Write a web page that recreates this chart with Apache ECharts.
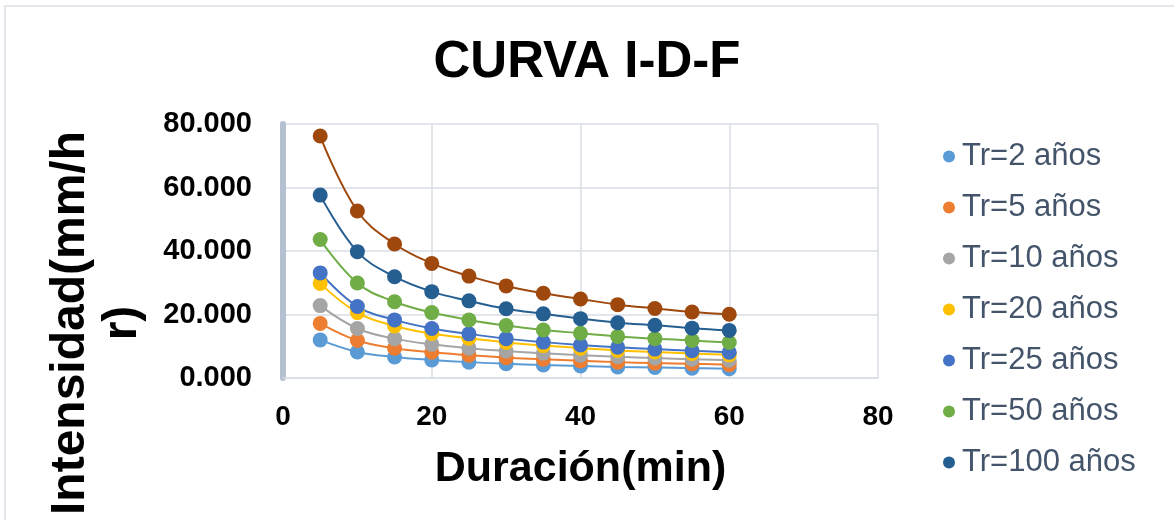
<!DOCTYPE html>
<html>
<head>
<meta charset="utf-8">
<title>Curva I-D-F</title>
<script src="https://cdn.jsdelivr.net/npm/echarts@6/dist/echarts.min.js"></script>
<style>
  html, body { margin: 0; padding: 0; background: #fff; }
  #idfChart { width: 1174px; height: 520px; }
</style>
</head>
<body>
<div id="idfChart"></div>
<script>
// duraciones (min)
const duracion = [5, 10, 15, 20, 25, 30, 35, 40, 45, 50, 55, 60]
const xTicks = [0, 20, 40, 60, 80]
const yTicks = [0, 20, 40, 60, 80]

// intensidades (mm/hr)
const tr2 = [12.0, 8.2, 6.6, 5.7, 5.0, 4.5, 4.1, 3.8, 3.5, 3.3, 3.1, 2.9]
const tr5 = [17.2, 11.8, 9.4, 8.1, 7.2, 6.4, 5.9, 5.4, 5.0, 4.7, 4.5, 4.2]
const tr10 = [22.8, 15.6, 12.4, 10.6, 9.4, 8.5, 7.8, 7.2, 6.7, 6.3, 5.9, 5.6]
const tr20 = [29.8, 20.6, 16.4, 14.0, 12.5, 11.2, 10.2, 9.4, 8.7, 8.2, 7.7, 7.3]
const tr25 = [33.1, 22.5, 18.3, 15.6, 13.9, 12.4, 11.3, 10.4, 9.7, 9.1, 8.6, 8.1]
const tr50 = [43.6, 29.9, 24.0, 20.6, 18.3, 16.5, 15.1, 14.1, 13.1, 12.4, 11.8, 11.2]
const tr100 = [57.6, 39.8, 31.9, 27.2, 24.3, 21.8, 20.2, 18.7, 17.4, 16.6, 15.7, 15.0]
const tr500 = [76.2, 52.6, 42.2, 36.1, 32.1, 29.0, 26.7, 24.9, 23.1, 21.9, 20.8, 20.1]

const nombres = ['Tr=2 años', 'Tr=5 años', 'Tr=10 años', 'Tr=20 años', 'Tr=25 años', 'Tr=50 años', 'Tr=100 años', 'Tr=500 años']
const valores = [tr2, tr5, tr10, tr20, tr25, tr50, tr100, tr500]
const colores = ['#5b9bd5', '#ed7d31', '#a5a5a5', '#ffc000', '#4472c4', '#70ad47', '#255e91', '#9e480e']

let series = []
for (let i = 0; i < nombres.length; i++) {
  series.push({
    name: nombres[i],
    type: 'line',
    smooth: 0.4,
    symbol: 'circle',
    symbolSize: 15,
    data: duracion.map((d, j) => [d, valores[i][j]]),
    lineStyle: { color: colores[i], width: 2 },
    itemStyle: { color: colores[i] }
  })
}

const fuente = '"Liberation Sans", Arial, sans-serif'

let option = {
  animation: false,
  textStyle: { fontFamily: fuente },
  title: {
    text: 'CURVA I-D-F',
    left: 'center',
    top: 32,
    textStyle: { fontSize: 51, fontWeight: 'bold', color: '#000', fontFamily: fuente }
  },
  legend: {
    // la ultima serie queda fuera del recorte de la imagen
    data: nombres.slice(0, 7),
    orient: 'vertical',
    left: 938,
    top: 136,
    icon: 'circle',
    itemWidth: 12,
    itemHeight: 12,
    itemGap: 20,
    textStyle: { fontSize: 31, lineHeight: 30, color: '#44546a', fontFamily: fuente, padding: [0, 0, 0, 2] }
  },
  grid: { left: 283, right: 296, top: 124, bottom: 142 },
  xAxis: {
    type: 'value',
    min: xTicks[0],
    max: xTicks[xTicks.length - 1],
    interval: 20,
    name: 'Duración(min)',
    nameLocation: 'middle',
    nameGap: 70,
    nameTextStyle: { fontSize: 43, fontWeight: 'bold', color: '#000', fontFamily: fuente },
    axisLine: { show: true, lineStyle: { color: '#d9dee6', width: 1.5 } },
    axisTick: { show: false },
    axisLabel: { fontSize: 28, fontWeight: 'bold', color: '#000', margin: 25 },
    splitLine: { show: true, lineStyle: { color: '#d9dee6', width: 1.5 } }
  },
  yAxis: {
    type: 'value',
    min: yTicks[0],
    max: yTicks[yTicks.length - 1],
    interval: 20,
    axisLine: { show: true, lineStyle: { color: '#b4c0cf', width: 6 } },
    axisTick: { show: false },
    axisLabel: {
      fontSize: 29, fontWeight: 'bold', color: '#000', margin: 31,
      formatter: v => v.toFixed(3)
    },
    splitLine: { show: true, lineStyle: { color: '#d9dee6', width: 1.5 } }
  },
  graphic: [
    {
      type: 'rect',
      shape: { x: 5, y: 6, width: 1200, height: 540 },
      style: { fill: null, stroke: '#e3e6eb', lineWidth: 2 },
      silent: true
    },
    {
      type: 'text',
      x: 97,
      y: 323,
      rotation: Math.PI / 2,
      style: {
        text: 'Intensidad(mm/h\nr)',
        font: 'bold 48px ' + fuente,
        lineHeight: 52,
        fill: '#000',
        align: 'center',
        verticalAlign: 'middle'
      }
    }
  ],
  series: series
}

function echartsInit() {
  echarts.init(document.getElementById('idfChart')).setOption(option)
}
echartsInit()
</script>
</body>
</html>
